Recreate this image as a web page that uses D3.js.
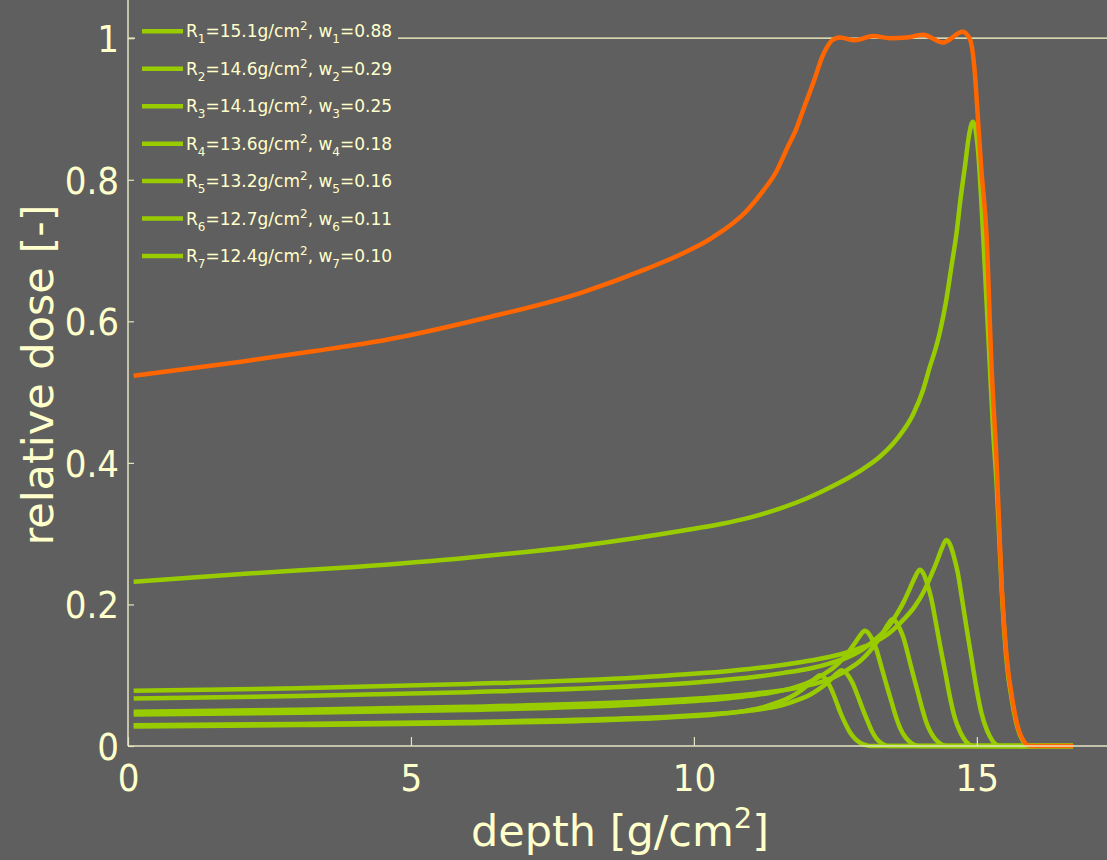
<!DOCTYPE html>
<html><head><meta charset="utf-8">
<script src="https://cdn.jsdelivr.net/npm/d3@7"></script>
<style>
html,body{margin:0;padding:0;background:#5f5f5f;}
svg{display:block;}
text{font-family:'DejaVu Sans',sans-serif;fill:#ffffcc;}
.cond{font-family:'DejaVu Sans Condensed','DejaVu Sans',sans-serif;font-stretch:condensed;}
</style></head>
<body><svg id="chart" width="1107" height="860"></svg>
<script>
// ---- data ----
const depthTicks = [0, 5, 10, 15];
const doseTicks = [0, 0.2, 0.4, 0.6, 0.8, 1];
const ranges = [15.1, 14.6, 14.1, 13.6, 13.2, 12.7, 12.4];
const weights = [0.88, 0.29, 0.25, 0.18, 0.16, 0.11, 0.10];

const sobpDepth = [0.1, 2, 3.3, 4.57, 6.22, 7.99, 9.16, 9.75, 10.34, 10.93, 11.22, 11.46, 11.65, 11.81, 11.96, 12.11, 12.28, 12.46, 12.58, 12.84, 13.17, 13.46, 13.76, 14.05, 14.40, 14.75, 14.88, 14.96, 15.02, 15.08, 15.17, 15.26, 15.35, 15.44, 15.52, 15.64, 15.76, 15.94, 16.70];
const sobpDose  = [0.523, 0.543, 0.558, 0.574, 0.603, 0.640, 0.674, 0.694, 0.719, 0.756, 0.784, 0.812, 0.845, 0.872, 0.905, 0.937, 0.976, 0.998, 1.001, 0.997, 1.003, 1.000, 1.001, 1.005, 0.994, 1.009, 0.998, 0.955, 0.885, 0.814, 0.724, 0.536, 0.400, 0.225, 0.131, 0.060, 0.018, 0, 0];

const r1Depth = [0.1, 2, 4, 6, 8, 10, 10.5, 11, 11.5, 12, 12.5, 13, 13.29, 13.6, 13.87, 14.05, 14.17, 14.27, 14.35, 14.46, 14.55, 14.64, 14.71, 14.79, 14.86, 14.93, 15.02, 15.11, 15.17, 15.23, 15.29, 15.35, 15.44, 15.52, 15.64, 15.76, 15.92, 16.70];
const r1Dose  = [0.232, 0.243, 0.253, 0.266, 0.283, 0.307, 0.314, 0.323, 0.335, 0.350, 0.369, 0.392, 0.409, 0.435, 0.468, 0.503, 0.536, 0.561, 0.586, 0.630, 0.677, 0.724, 0.772, 0.819, 0.862, 0.882, 0.842, 0.724, 0.630, 0.536, 0.442, 0.370, 0.220, 0.125, 0.055, 0.016, 0, 0];

const r2Depth = [0.1, 3, 6, 9, 10.66, 11.56, 12.06, 12.56, 12.86, 13.16, 13.46, 13.71, 13.91, 14.06, 14.18, 14.29, 14.38, 14.46, 14.53, 14.59, 14.66, 14.74, 14.82, 14.91, 14.99, 15.08, 15.18, 15.28, 15.41, 16.70];
const r2Dose  = [0.078, 0.0815, 0.0876, 0.0969, 0.1062, 0.1144, 0.1208, 0.1289, 0.1362, 0.1455, 0.160, 0.179, 0.198, 0.218, 0.239, 0.260, 0.279, 0.291, 0.284, 0.269, 0.246, 0.207, 0.166, 0.122, 0.083, 0.047, 0.022, 0.007, 0, 0];

const r3Depth = [0.1, 3, 6, 9, 10.19, 11.09, 11.59, 12.09, 12.39, 12.69, 12.99, 13.24, 13.44, 13.59, 13.71, 13.82, 13.91, 13.99, 14.06, 14.12, 14.19, 14.27, 14.35, 14.44, 14.52, 14.61, 14.71, 14.81, 14.94, 16.70];
const r3Dose  = [0.067, 0.0705, 0.076, 0.0847, 0.0909, 0.0979, 0.1033, 0.1103, 0.1165, 0.1245, 0.137, 0.153, 0.169, 0.187, 0.204, 0.223, 0.239, 0.249, 0.243, 0.230, 0.210, 0.177, 0.142, 0.105, 0.071, 0.040, 0.019, 0.006, 0, 0];

const r4Depth = [0.1, 3, 6, 9, 9.71, 10.61, 11.11, 11.61, 11.91, 12.21, 12.51, 12.76, 12.96, 13.11, 13.23, 13.34, 13.43, 13.51, 13.58, 13.64, 13.71, 13.79, 13.87, 13.96, 14.04, 14.13, 14.23, 14.33, 14.46, 16.70];
const r4Dose  = [0.0485, 0.0512, 0.0553, 0.0625, 0.0653, 0.0703, 0.0743, 0.0793, 0.0838, 0.0895, 0.0985, 0.110, 0.1217, 0.1343, 0.1468, 0.160, 0.1718, 0.179, 0.1745, 0.1656, 0.1513, 0.1271, 0.102, 0.0752, 0.051, 0.0286, 0.0134, 0.0045, 0, 0];

const r5Depth = [0.1, 3, 6, 9, 10.12, 10.62, 11.12, 11.42, 11.72, 12.02, 12.27, 12.47, 12.62, 12.74, 12.85, 12.94, 13.02, 13.09, 13.15, 13.22, 13.30, 13.38, 13.47, 13.55, 13.64, 13.74, 13.84, 13.97, 16.70];
const r5Dose  = [0.0444, 0.0471, 0.051, 0.0587, 0.0641, 0.0676, 0.0722, 0.0763, 0.0815, 0.0897, 0.1002, 0.1108, 0.1223, 0.1337, 0.1459, 0.1565, 0.163, 0.1589, 0.1508, 0.1377, 0.1157, 0.0929, 0.0685, 0.0465, 0.0261, 0.0122, 0.0041, 0, 0];

const r6Depth = [0.1, 3, 6, 8.81, 9.71, 10.21, 10.71, 11.01, 11.31, 11.61, 11.86, 12.06, 12.21, 12.33, 12.44, 12.53, 12.61, 12.68, 12.74, 12.81, 12.89, 12.97, 13.06, 13.14, 13.23, 13.33, 13.42, 16.70];
const r6Dose  = [0.0293, 0.0312, 0.0339, 0.0391, 0.0421, 0.0444, 0.0474, 0.0501, 0.0535, 0.0589, 0.0658, 0.0728, 0.0803, 0.0877, 0.0958, 0.1027, 0.107, 0.104, 0.098, 0.088, 0.072, 0.055, 0.037, 0.022, 0.010, 0.003, 0, 0];

const r7Depth = [0.1, 3, 6, 8.43, 9.33, 9.83, 10.33, 10.63, 10.93, 11.23, 11.48, 11.68, 11.83, 11.95, 12.06, 12.15, 12.23, 12.30, 12.36, 12.43, 12.51, 12.59, 12.68, 12.76, 12.85, 12.95, 13.05, 13.12, 16.70];
const r7Dose  = [0.0276, 0.0295, 0.0322, 0.0365, 0.0393, 0.0415, 0.0443, 0.0468, 0.050, 0.055, 0.0615, 0.068, 0.075, 0.082, 0.0895, 0.096, 0.100, 0.097, 0.091, 0.080, 0.064, 0.047, 0.031, 0.019, 0.010, 0.004, 0.001, 0, 0];

const peakDepths = [r1Depth, r2Depth, r3Depth, r4Depth, r5Depth, r6Depth, r7Depth];
const peakDoses  = [r1Dose, r2Dose, r3Dose, r4Dose, r5Dose, r6Dose, r7Dose];

// ---- drawing ----
const W = 1107, H = 860;
const BG = '#5f5f5f', CREAM = '#ffffcc', AXIS = '#e4e4c4', GREEN = '#99cc00', ORANGE = '#ff6600';
const svg = d3.select('#chart');
svg.append('rect').attr('width', W).attr('height', H).attr('fill', BG);

const x = d3.scaleLinear().domain([0, 17.3]).range([128, 1107]);
const y = d3.scaleLinear().domain([0, 1.054]).range([746, 0]);

// reference line at dose 1
svg.append('line').attr('x1', x(0)).attr('x2', W).attr('y1', y(1)).attr('y2', y(1))
  .attr('stroke', CREAM).attr('stroke-width', 1.2);

const line = d3.line().x(d => x(d[0])).y(d => y(d[1])).curve(d3.curveMonotoneX);

const g = svg.append('g');
for (let i = peakDepths.length - 1; i >= 0; i--) {
  const pts = peakDepths[i].map((d, k) => [d, peakDoses[i][k]]);
  g.append('path').datum(pts).attr('d', line).attr('fill', 'none')
    .attr('stroke', GREEN).attr('stroke-width', 4.5).attr('stroke-linejoin', 'round');
}
g.append('path').datum(sobpDepth.map((d, k) => [d, sobpDose[k]])).attr('d', line)
  .attr('fill', 'none').attr('stroke', ORANGE).attr('stroke-width', 4.5).attr('stroke-linejoin', 'round');

// axes
const xAxis = d3.axisBottom(x).tickValues(depthTicks).tickSizeInner(-9).tickSizeOuter(0).tickPadding(18).tickFormat(d3.format('d'));
const yAxis = d3.axisLeft(y).tickValues(doseTicks).tickSizeInner(-6).tickSizeOuter(0).tickPadding(9).tickFormat(d => d === 0 || d === 1 ? String(d) : d.toFixed(1));

const gx = svg.append('g').attr('transform', `translate(0,${y(0)})`).call(xAxis);
const gy = svg.append('g').attr('transform', `translate(${x(0)},0)`).call(yAxis);
[gx, gy].forEach(a => {
  a.select('.domain').attr('stroke', AXIS).attr('stroke-width', 1.5);
  a.selectAll('.tick line').attr('stroke', AXIS).attr('stroke-width', 1.2);
  a.selectAll('.tick text').attr('fill', CREAM).attr('class', 'cond').style('font-size', '38px');
});
gx.select('.domain').attr('d', `M${x(0)},0H${W}`);
gy.select('.domain').attr('d', `M0,${y(0)}V0`);
gx.selectAll('.tick text').attr('dy', '0.71em');
gy.selectAll('.tick text').attr('dy', '0.35em');

// axis titles
const xt = svg.append('text').attr('x', 620).attr('y', 846).attr('text-anchor', 'middle').style('font-size', '43px');
xt.append('tspan').text('depth [g/cm');
xt.append('tspan').attr('dy', -18).style('font-size', '29px').text('2');
xt.append('tspan').attr('dy', 18).text(']');

svg.append('text').attr('transform', 'translate(53,375) rotate(-90)').attr('text-anchor', 'middle')
  .style('font-size', '43px').text('relative dose [-]');

// legend
const lg = svg.append('g');
lg.append('rect').attr('x', 135).attr('y', 12).attr('width', 263).attr('height', 262).attr('fill', BG);
ranges.forEach((r, i) => {
  const yy = 31.3 + i * 37.45;
  lg.append('line').attr('x1', 142).attr('x2', 183).attr('y1', yy).attr('y2', yy)
    .attr('stroke', GREEN).attr('stroke-width', 4.5);
  const t = lg.append('text').attr('x', 186).attr('y', yy + 6).style('font-size', '17px');
  const n = String(i + 1);
  t.append('tspan').text('R');
  t.append('tspan').attr('dy', 6).style('font-size', '12px').text(n);
  t.append('tspan').attr('dy', -6).text('=' + r.toFixed(1) + 'g/cm');
  t.append('tspan').attr('dy', -7).style('font-size', '12px').text('2');
  t.append('tspan').attr('dy', 7).text(', w');
  t.append('tspan').attr('dy', 6).style('font-size', '12px').text(n);
  t.append('tspan').attr('dy', -6).text('=' + weights[i].toFixed(2));
});
</script></body></html>
